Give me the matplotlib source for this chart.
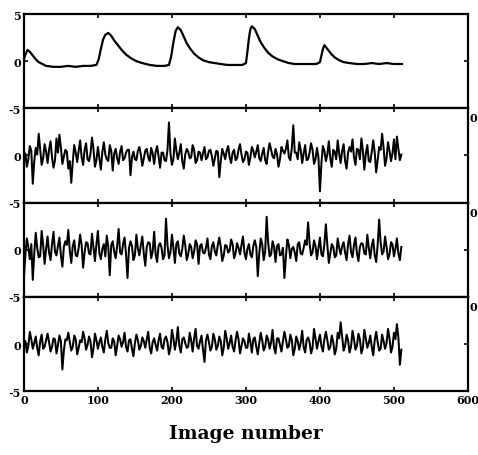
import matplotlib
matplotlib.use('Agg')
import matplotlib.pyplot as plt
import numpy as np

# top trace: slow response with five transients
resp_x = [0, 2, 5, 8, 12, 16, 20, 25, 30, 40,
          50, 60, 70, 80, 90, 98, 101, 104, 107, 110,
          114, 118, 122, 127, 132, 138, 145, 152, 160, 170,
          180, 190, 196, 199, 202, 205, 208, 212, 216, 220,
          225, 230, 236, 242, 250, 258, 266, 275, 285, 295,
          300, 302, 304, 306, 308, 312, 316, 320, 325, 330,
          336, 343, 350, 358, 366, 375, 385, 395, 400, 402,
          404, 406, 408, 412, 416, 420, 426, 432, 440, 450,
          460, 470, 480, 490, 500, 511]
resp_y = [0.2, 0.7, 1.2, 1.0, 0.6, 0.2, -0.1, -0.3, -0.5, -0.6,
          -0.6, -0.5, -0.6, -0.5, -0.5, -0.4, 0.2, 1.3, 2.3, 2.8,
          3.0, 2.7, 2.2, 1.7, 1.2, 0.7, 0.3, 0.0, -0.2, -0.4,
          -0.5, -0.5, -0.4, 0.5, 2.0, 3.2, 3.6, 3.3, 2.6, 1.9,
          1.3, 0.8, 0.4, 0.1, -0.1, -0.2, -0.3, -0.4, -0.4, -0.4,
          -0.2, 1.0, 2.4, 3.4, 3.7, 3.4, 2.7, 2.0, 1.4, 0.9,
          0.5, 0.2, 0.0, -0.2, -0.3, -0.3, -0.3, -0.3, -0.1, 0.6,
          1.3, 1.7, 1.5, 1.1, 0.7, 0.4, 0.1, -0.1, -0.2, -0.3,
          -0.3, -0.2, -0.3, -0.2, -0.3, -0.3]

# noise traces: images 0,4,8,... and in-between images 2,6,10,...
noise_a = [0.3, -1.2, 1.0, -3.0, 0.8, 2.3, -1.0, 1.2, -0.8, 1.5, -1.3, 1.8, 2.2, -0.9, 0.6, -1.4,
           -2.9, 1.1, -0.7, 1.6, -1.0, 1.3, -0.6, 1.9, -1.2, 0.9, -1.5, 1.4, -0.4, 1.1, -1.6, 0.7,
           -0.9, 1.0, -0.3, 0.6, -2.1, 0.4, -0.5, 0.9, -1.1, 0.5, -0.2, 0.8, -0.9, 1.0, -1.3, 0.3,
           -0.6, 3.5, -1.0, 1.8, -0.4, 1.2, -1.4, 0.7, -0.3, 1.1, -0.8, 0.4, -0.5, 0.9, -0.2, 0.6,
           -1.1, 0.5, -2.3, 0.7, -0.4, 1.0, -0.8, 0.6, -0.3, 1.2, -0.7, 0.4, -1.0, 0.9, -0.2, 1.1,
           -0.6, 0.8, -0.9, 1.3, -0.1, 0.7, -1.2, 0.9, 0.2, 1.6, -0.5, 3.2, 0.3, 1.4, -0.8, 1.1,
           -0.4, 1.3, -0.9, 0.8, -3.8, 1.0, -0.6, 1.5, -1.2, 0.4, 1.6, -0.8, 1.2, -1.4, 0.9, 1.7,
           -1.0, 0.6, 1.8, -1.5, 1.1, -0.7, 1.6, -1.8, 0.9, 2.3, -1.1, 1.4, -0.6, 1.7, 2.0, -0.5]
noise_a_mid = [0.2, -0.4, 0.5, -0.6, 0.1, 0.7, -0.3, 0.4, 0.6, -0.2, -0.5, 0.3, 0.8, -0.1, 0.4, -0.6,
               -0.7, 0.3, 0.5, -0.2, 0.6, -0.4, 0.2, 0.7, -0.5, -0.3, 0.4, 0.1, -0.6, 0.5, 0.2, -0.3,
               0.4, -0.5, 0.3, 0.6, -0.2, -0.4, 0.5, 0.1, -0.3, 0.7, -0.6, 0.2, 0.4, -0.1, 0.3, -0.5,
               0.6, 0.2, -0.4, 0.5, 0.3, -0.6, 0.1, 0.4, -0.2, 0.6, -0.5, 0.3, 0.2, -0.4, 0.5, -0.1,
               -0.3, 0.4, -0.6, 0.2, 0.5, -0.2, 0.3, -0.5, 0.6, 0.1, -0.4, 0.3, -0.2, 0.5, 0.4, -0.3,
               0.2, -0.5, 0.4, 0.6, -0.3, 0.1, -0.4, 0.5, 0.7, -0.2, 0.8, 0.3, -0.4, 0.6, 0.2, -0.5,
               0.3, 0.6, -0.4, -0.2, -0.8, 0.5, 0.1, -0.3, 0.6, -0.4, 0.2, 0.5, -0.6, 0.3, 0.4, -0.2,
               0.7, -0.4, 0.5, 0.2, -0.6, 0.4, 0.3, -0.5, 0.6, 0.8, -0.3, 0.5, 0.2, -0.4, 0.7, 0.1]
noise_b = [-3.0, 1.2, -1.0, -3.2, 1.8, -0.8, 2.0, -1.5, 1.4, -1.1, 1.9, -0.6, 1.3, -1.8, 0.9, 2.1,
           -1.4, 1.0, -0.7, 1.6, -1.9, 0.8, -0.4, 1.7, -1.2, 2.0, -1.0, 0.6, 1.5, -2.7, 0.9, -0.9,
           2.2, -0.5, 1.3, -3.0, 0.9, -1.1, 1.6, -0.6, 1.4, -1.7, 0.8, -0.9, 1.9, -1.3, 0.7, -1.0,
           3.3, -0.9, 1.6, -1.4, 0.9, -0.7, 1.5, -1.1, 0.6, -0.9, 1.0, -1.5, 0.6, -0.4, 1.2, -1.0,
           0.8, -0.6, 1.3, -1.2, 0.5, -0.3, 1.1, -0.9, 0.7, -0.5, 1.4, -1.0, 0.6, -0.8, 1.0, -2.8,
           1.2, -1.1, 3.5, -0.7, 0.9, -1.3, 0.6, -0.5, -3.0, 1.1, -0.9, 0.3, -1.2, 0.8, -0.5, 1.0,
           2.9, -0.6, 1.0, -1.0, 1.3, -0.7, 2.7, -1.4, 0.6, -0.8, 1.2, -0.5, 0.8, -1.1, 1.5, -0.8,
           1.3, -1.2, 0.7, -0.4, 1.6, -0.9, 1.1, -1.3, 3.2, -0.5, 1.4, -1.0, 0.8, -0.7, 1.2, -1.1]
noise_b_mid = [-0.5, 0.3, 0.6, -0.4, 0.2, -0.7, 0.5, 0.1, -0.3, 0.6, -0.2, 0.4, -0.6, 0.3, 0.5, -0.1,
               0.4, -0.6, 0.2, 0.5, -0.3, 0.7, -0.5, 0.2, 0.6, -0.4, 0.1, -0.7, 0.3, 0.5, -0.2, 0.4,
               -0.3, 0.6, -0.5, 0.2, 0.4, -0.6, 0.1, 0.5, -0.4, 0.3, 0.7, -0.2, -0.5, 0.4, 0.2, -0.6,
               0.5, -0.3, 0.2, 0.6, -0.4, 0.1, 0.5, -0.5, 0.3, -0.2, 0.6, 0.4, -0.3, 0.2, -0.5, 0.4,
               -0.2, 0.5, 0.3, -0.6, 0.4, -0.1, 0.6, -0.4, 0.2, 0.5, -0.3, 0.1, -0.5, 0.4, 0.3, -0.4,
               0.6, -0.2, 0.8, -0.5, 0.3, 0.4, -0.6, 0.2, -0.7, 0.5, 0.1, -0.3, 0.6, -0.4, 0.2, 0.5,
               0.7, -0.3, 0.4, 0.2, -0.5, 0.6, 0.5, -0.4, 0.3, -0.6, 0.2, 0.4, -0.3, 0.6, -0.2, 0.5,
               -0.4, 0.3, 0.6, -0.5, 0.2, 0.4, -0.6, 0.5, 0.8, -0.2, 0.3, -0.5, 0.6, 0.1, -0.4, 0.3]
noise_c = [0.4, -0.9, 1.3, -0.5, 0.8, -1.2, 1.0, -0.3, 1.1, -0.8, 0.6, -1.0, 0.9, -2.7, 0.5, 1.2,
           -0.7, 0.9, -1.1, 0.4, 1.3, -0.6, 0.8, -1.4, 1.1, -0.5, 0.7, -0.9, 1.4, -0.4, 0.6, -1.2,
           0.9, -0.3, 1.2, -0.8, 0.5, -1.3, 1.0, -0.6, 0.7, -0.4, 1.3, -1.0, 0.6, -0.7, 1.1, -0.5,
           0.8, -1.1, 1.5, -0.6, 1.8, -0.9, 0.7, -0.4, 1.2, -0.8, 1.6, -0.5, 0.9, -1.9, 1.0, -0.7,
           1.1, -0.6, 0.8, -1.2, 1.4, -0.5, 0.9, -0.8, 1.3, -1.0, 0.6, -0.4, 1.1, -0.9, 0.7, -1.1,
           1.2, -0.7, 0.9, -0.5, 1.5, -1.0, 0.6, -0.8, 1.3, -0.4, 1.0, -1.2, 0.8, -0.6, 1.4, -0.9,
           0.7, -1.0, 1.6, -0.5, 1.0, -0.8, 1.3, -0.6, 0.9, -1.1, 1.2, 2.3, -0.7, 1.0, -0.9, 1.4,
           -0.6, 1.1, -1.0, 1.5, -0.4, 0.9, -1.2, 1.3, -0.7, 1.0, -0.5, 1.6, -0.9, 1.2, 2.1, -2.2]
noise_c_mid = [0.3, -0.2, 0.5, 0.1, -0.4, 0.3, -0.5, 0.4, 0.2, -0.3, 0.5, -0.1, 0.3, -0.7, 0.4, 0.2,
               -0.3, 0.5, -0.4, 0.2, 0.6, -0.1, 0.3, -0.5, 0.4, 0.2, -0.3, 0.5, 0.1, -0.4, 0.3, -0.2,
               0.5, 0.2, -0.3, 0.4, -0.5, 0.1, 0.4, -0.2, 0.3, 0.5, -0.4, 0.2, -0.1, 0.4, -0.3, 0.5,
               0.2, -0.4, 0.6, 0.3, -0.2, 0.5, 0.1, -0.3, 0.4, 0.6, -0.2, 0.3, -0.6, 0.4, 0.2, -0.3,
               0.5, -0.2, 0.3, -0.4, 0.6, 0.1, -0.3, 0.4, 0.5, -0.2, 0.3, -0.4, 0.2, 0.5, -0.3, 0.1,
               0.4, -0.3, 0.5, 0.2, -0.4, 0.6, -0.1, 0.3, 0.5, -0.2, 0.4, -0.5, 0.3, 0.1, -0.3, 0.4,
               0.2, -0.4, 0.6, 0.3, -0.2, 0.5, 0.4, -0.3, 0.2, -0.5, 0.6, 0.8, -0.2, 0.4, -0.3, 0.5,
               -0.2, 0.5, -0.4, 0.6, 0.1, -0.3, 0.4, 0.2, -0.5, 0.3, 0.1, 0.6, -0.3, 0.5, 0.7, -0.6]

xticks = [0, 100, 200, 300, 400, 500, 600]


def merge(even, mid):
    # interleave the two sample sets along the image axis
    v = np.empty(len(even) + len(mid))
    v[0::2] = even
    v[1::2] = mid
    return np.arange(len(v)) * 2, v


plt.rcParams['font.family'] = 'DejaVu Serif'
plt.rcParams['font.weight'] = 'bold'

fig = plt.figure(figsize=(4.78, 4.56), dpi=100)
left, width = 0.050, 0.929
bottom, total = 0.140, 0.827
h = total / 4

series = [(resp_x, resp_y, 1.6)]
for even, mid in [(noise_a, noise_a_mid), (noise_b, noise_b_mid), (noise_c, noise_c_mid)]:
    xs, ys = merge(even, mid)
    series.append((xs, ys, 1.45))

axes = []
for k, (xs, ys, lw) in enumerate(series):
    ax = fig.add_axes([left, bottom + (3 - k) * h, width, h])
    ax.plot(xs, ys, color='black', lw=lw)
    ax.set_xlim(0, 600)
    ax.set_ylim(-5, 5)
    ax.set_xticks(xticks)
    ax.tick_params(direction='in', top=True, right=True, length=3, width=1.2,
                   labelsize=8, pad=2)
    if k == 0:
        ax.set_yticks([-5, 0, 5])
        ax.set_yticklabels(['-5', '0', '5'])
    else:
        ax.set_yticks([-5, 0])
        ax.set_yticklabels(['-5', '0'])
        ax.text(1.004, 0.9, '0', transform=ax.transAxes, fontsize=8,
                fontweight='bold', ha='left', va='center')
    if k < 3:
        ax.tick_params(labelbottom=False)
    for s in ax.spines.values():
        s.set_linewidth(1.6)
    axes.append(ax)

axes[-1].set_xticklabels([str(t) for t in xticks])
axes[-1].set_xlabel('Image number', fontsize=13.5, fontweight='bold', labelpad=14)

fig.savefig('out.png', dpi=100)
